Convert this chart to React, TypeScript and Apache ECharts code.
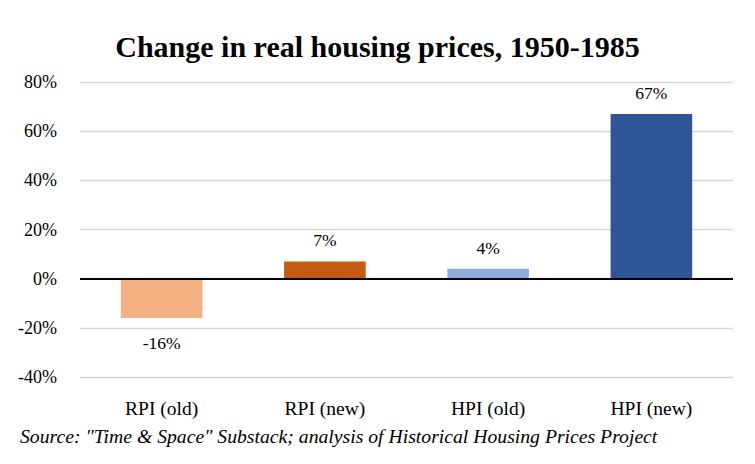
import React, { useEffect, useRef } from "react";
import * as echarts from "echarts";

const categories = ["RPI (old)", "RPI (new)", "HPI (old)", "HPI (new)"];
const values = [-16, 7, 4, 67];
const barColors = ["#F4B183", "#C55A11", "#8FAADC", "#2F5597"];
const yMin = -40;
const yMax = 80;
const yStep = 20;
const titleText = "Change in real housing prices, 1950-1985";
const sourceText = 'Source: "Time & Space" Substack; analysis of Historical Housing Prices Project';

const FONT = "'Liberation Serif', 'Times New Roman', serif";

export default function App() {
  const ref = useRef<HTMLDivElement>(null);
  useEffect(() => {
    if (!ref.current) return;
    const chart = echarts.init(ref.current, null, { renderer: "svg" });
    chart.setOption({
      animation: false,
      backgroundColor: "#ffffff",
      title: {
        text: titleText,
        left: "center",
        top: 26,
        textStyle: { fontFamily: FONT, fontWeight: "bold", fontSize: 30, color: "#000" },
      },
      grid: { left: 80, right: 22, top: 82, bottom: 87, containLabel: false },
      xAxis: {
        type: "category",
        data: categories,
        axisLine: { show: false },
        axisTick: { show: false },
        axisLabel: { fontFamily: FONT, fontSize: 19.5, color: "#000", margin: 21 },
      },
      yAxis: {
        type: "value",
        min: yMin,
        max: yMax,
        interval: yStep,
        axisLine: { show: false },
        axisTick: { show: false },
        splitLine: { lineStyle: { color: "#d9d9d9", width: 1.3 } },
        axisLabel: {
          fontFamily: FONT,
          fontSize: 18,
          color: "#000",
          margin: 23,
          formatter: (v: number) => `${v}%`,
        },
      },
      series: [
        {
          type: "bar",
          barWidth: "50%",
          data: values.map((v, i) => ({
            value: v,
            itemStyle: { color: barColors[i] },
            label: {
              show: true,
              position: v < 0 ? "bottom" : "top",
              distance: v < 0 ? 16 : 12,
            },
          })),
          label: {
            show: true,
            fontFamily: FONT,
            fontSize: 17.5,
            color: "#000",
            formatter: (p: any) => `${p.value}%`,
          },
          markLine: {
            silent: true,
            symbol: "none",
            label: { show: false },
            lineStyle: { color: "#000", width: 2, type: "solid" },
            data: [{ yAxis: 0 }],
          },
        },
      ],
      graphic: [
        {
          type: "text",
          left: 20,
          top: 426,
          style: {
            text: sourceText,
            fontFamily: FONT,
            fontStyle: "italic",
            fontSize: 19.7,
            fill: "#000",
          },
        },
      ],
    });
    return () => chart.dispose();
  }, []);
  return <div ref={ref} style={{ width: 755, height: 464, position: "absolute", left: 0, top: 0 }} />;
}
